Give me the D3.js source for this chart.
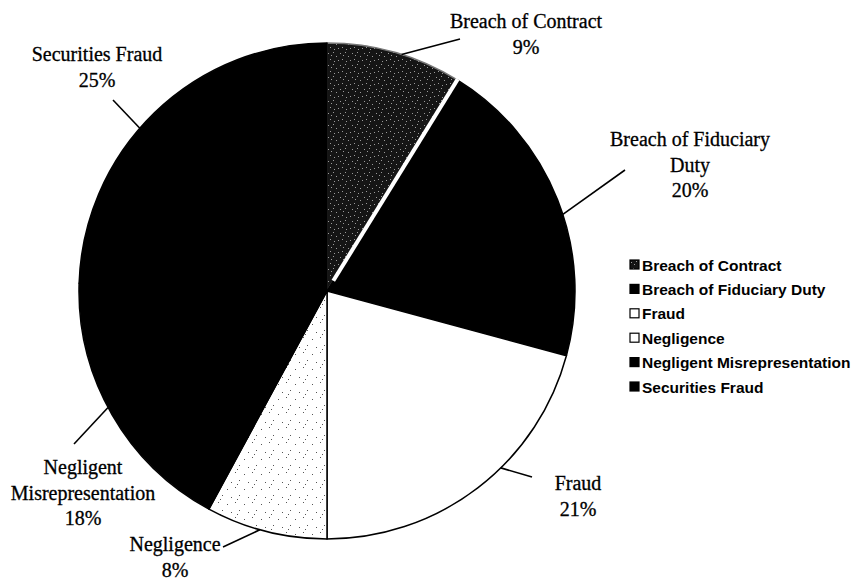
<!DOCTYPE html>
<html>
<head>
<meta charset="utf-8">
<script src="https://cdn.jsdelivr.net/npm/d3@7"></script>
<style>
  body { margin: 0; background: #fff; }
  svg { display: block; }
</style>
</head>
<body>
<script>
    const width = 854;
    const height = 579;
    const cx = 327, cy = 291;
    const radius = 248;

    // data
    const categories = ["Breach of Contract", "Breach of Fiduciary Duty", "Fraud",
        "Negligence", "Negligent Misrepresentation", "Securities Fraud"];
    const values = [8.8, 20.4, 20.8, 7.9, 17.6, 24.5];
    const labelLines = [["Breach of Contract"], ["Breach of Fiduciary", "Duty"], ["Fraud"],
        ["Negligence"], ["Negligent", "Misrepresentation"], ["Securities Fraud"]];
    const fills = ["url(#dark)", "#000", "#fff", "url(#dots)", "#000", "#000"];

    // where the labels sit, relative to the pie centre (hand placed, like the original)
    const labelLayout = [
        { x: 199, y: -263, from: 17.5, to: [133, -252] },
        { x: 363, y: -145, from: 72, to: [298, -121] },
        { x: 251, y: 199, from: 135.5, to: [205, 186] },
        { x: -152, y: 260, from: 195.7, to: [-104, 256] },
        { x: -244, y: 183, from: 242, to: [-253, 153] },
        { x: -230, y: -230, from: 311, to: [-214, -191] }
    ];

    const total = d3.sum(values);
    const pct = v => Math.round(v / total * 100) + "%";

    const svg = d3.select("body")
        .append("svg")
        .attr("width", width)
        .attr("height", height);

    // fills: dark stipple and sparse dots
    const defs = svg.append("defs");
    const dark = defs.append("pattern").attr("id", "dark")
        .attr("patternUnits", "userSpaceOnUse").attr("width", 12).attr("height", 12);
    dark.append("rect").attr("width", 12).attr("height", 12).attr("fill", "#151515");
    [[1, 2], [6, 1], [9, 5], [3, 8], [7, 10], [11, 9], [4, 4]].forEach(p =>
        dark.append("rect").attr("x", p[0]).attr("y", p[1]).attr("width", 1).attr("height", 1).attr("fill", "#9a9a9a"));
    const dots = defs.append("pattern").attr("id", "dots")
        .attr("patternUnits", "userSpaceOnUse").attr("width", 17).attr("height", 15);
    dots.append("rect").attr("width", 17).attr("height", 15).attr("fill", "#fff");
    [[2, 3], [10, 1], [14, 9], [6, 11], [12, 13]].forEach(p =>
        dots.append("rect").attr("x", p[0]).attr("y", p[1]).attr("width", 1).attr("height", 1).attr("fill", "#555"));

    const pie = d3.pie().sort(null).value(d => d);
    const arcs = pie(values);
    const arc = d3.arc().innerRadius(0).outerRadius(radius);

    const g = svg.append("g").attr("transform", `translate(${cx},${cy})`);

    g.selectAll("path.slice")
        .data(arcs)
        .join("path")
        .attr("class", "slice")
        .attr("d", arc)
        .attr("fill", (d, i) => fills[i])
        .attr("stroke", (d, i) => i === 0 ? "#777" : "#000")
        .attr("stroke-width", 1.5)
        .attr("stroke-linejoin", "round");

    // white gap between the first two slices
    const a0 = arcs[0].endAngle;
    g.append("line")
        .attr("x1", Math.sin(a0) * 12).attr("y1", -Math.cos(a0) * 12)
        .attr("x2", Math.sin(a0) * (radius + 1)).attr("y2", -Math.cos(a0) * (radius + 1))
        .attr("stroke", "#fff")
        .attr("stroke-width", 4);

    // leader lines
    const rad = deg => deg * Math.PI / 180;
    g.selectAll("line.leader")
        .data(labelLayout)
        .join("line")
        .attr("class", "leader")
        .attr("x1", d => Math.sin(rad(d.from)) * radius)
        .attr("y1", d => -Math.cos(rad(d.from)) * radius)
        .attr("x2", d => d.to[0])
        .attr("y2", d => d.to[1])
        .attr("stroke", "#000")
        .attr("stroke-width", 1.6);

    // slice labels
    const labels = g.selectAll("text.label")
        .data(arcs)
        .join("text")
        .attr("class", "label")
        .attr("font-family", "'Liberation Serif', 'Times New Roman', serif")
        .attr("font-size", 20)
        .attr("fill", "#000")
        .attr("stroke", "#000")
        .attr("stroke-width", 0.3)
        .attr("text-anchor", "middle")
        .attr("transform", (d, i) => `translate(${labelLayout[i].x},${labelLayout[i].y})`);

    labels.selectAll("tspan")
        .data((d, i) => labelLines[i].concat([pct(values[i])]))
        .join("tspan")
        .attr("x", 0)
        .attr("y", (d, j) => j * 25.5)
        .text(d => d);

    // legend
    const legend = svg.append("g").attr("transform", "translate(630,260)");
    const row = legend.selectAll("g")
        .data(categories)
        .join("g")
        .attr("transform", (d, i) => `translate(0,${i * 24.4})`);
    row.append("rect")
        .attr("width", 9)
        .attr("height", 9)
        .attr("fill", (d, i) => i === 0 ? "url(#dark)" : (i === 3 ? "#fff" : fills[i]))
        .attr("stroke", "#000")
        .attr("stroke-width", 1.2);
    row.append("text")
        .attr("x", 12)
        .attr("y", 10.5)
        .attr("font-family", "'Liberation Sans', Arial, sans-serif")
        .attr("font-size", 15.5)
        .attr("font-weight", "bold")
        .text(d => d);
</script>
</body>
</html>
